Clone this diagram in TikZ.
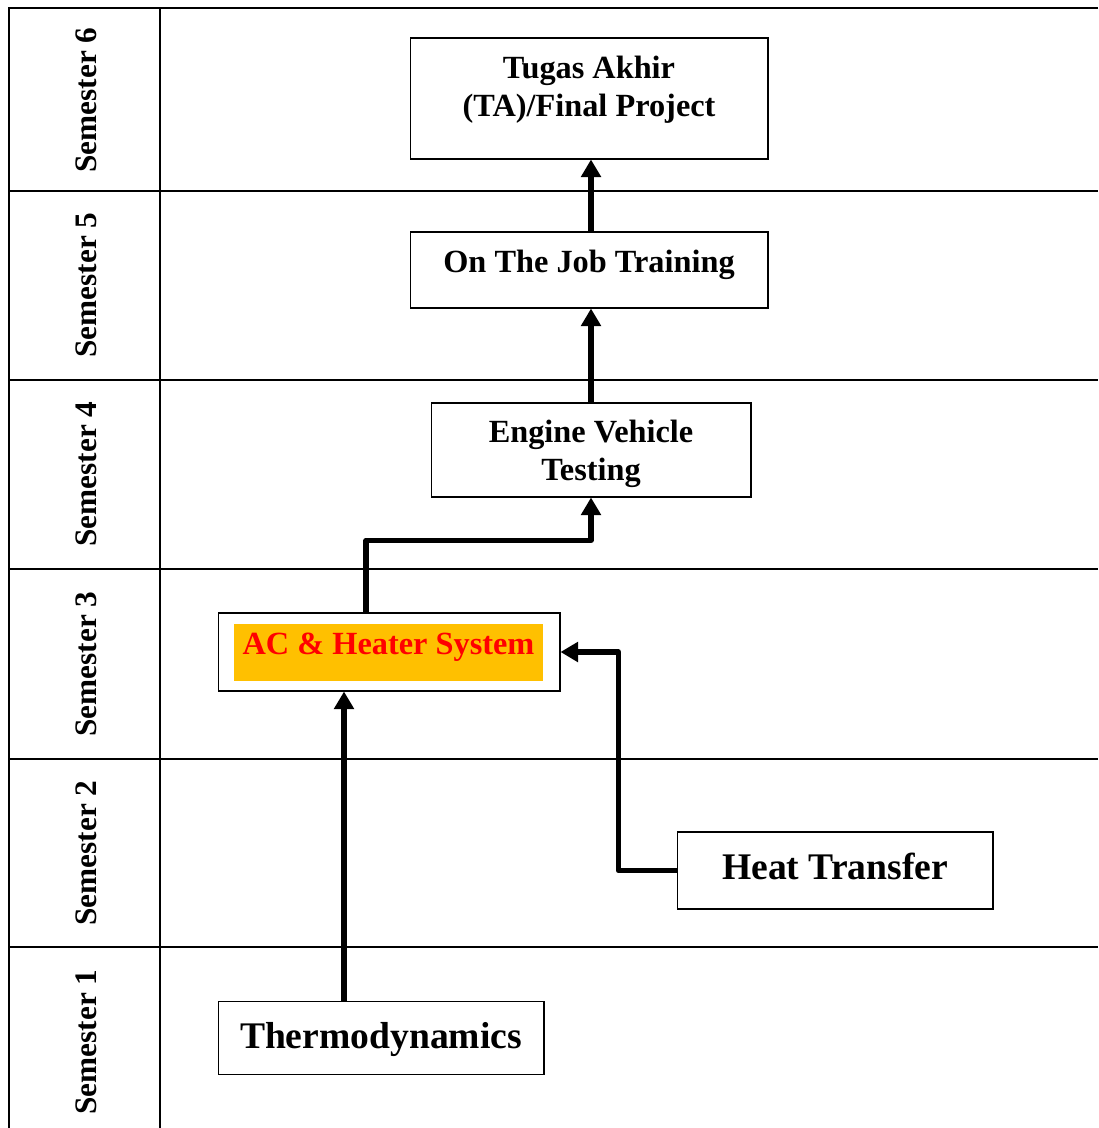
\documentclass[tikz,border=0pt]{standalone}
\usepackage{fontspec}
\setmainfont{Liberation Serif}
\usetikzlibrary{arrows.meta}
\definecolor{acfill}{HTML}{FFC000}
\tikzset{
    tableline/.style={line width=1.3pt},
    course/.style={draw, line width=0.6pt, align=center, font=\fontsize{18.4pt}{21.5pt}\selectfont\bfseries},
    bigcourse/.style={course, font=\fontsize{21.4pt}{26pt}\selectfont\bfseries},
    semlabel/.style={rotate=90, font=\fontsize{17.8pt}{21.5pt}\selectfont\bfseries},
    flow/.style={line width=3.1pt, line join=round, -{Triangle[length=10pt,width=11pt]}}
}
\begin{document}
\begin{tikzpicture}[x=0.02cm, y=-0.02cm]
    \useasboundingbox (0,0) rectangle (1098,1128);
    \draw[tableline] (1098,8) -- (9,8) -- (9,1128);
    \draw[tableline] (160,8) -- (160,1128);
    \foreach \y in {191,380,569,759,947}
        \draw[tableline] (9,\y) -- (1098,\y);
    \foreach \n/\y in {6/100,5/285,4/474,3/664,2/853,1/1042}
        \node[semlabel] (sem\n) at (86,\y) {Semester \n};

    \node[course, minimum width=7.16cm, minimum height=2.42cm] (ta) at (589,98.5) {Tugas Akhir\\(TA)/Final Project\rule[-13.9pt]{0pt}{0pt}};
    \node[course, minimum width=7.16cm, minimum height=1.52cm, text height=12.5pt, text depth=10pt] (ojt) at (589,270) {On The Job Training};
    \node[course, minimum width=6.4cm, minimum height=1.88cm] (evt) at (591,450) {\rule{0pt}{17.3pt}Engine Vehicle\\Testing};
    \node[course, minimum width=6.84cm, minimum height=1.56cm] (ac) at (389,652) {};
    \node[font=\fontsize{18.4pt}{21.5pt}\selectfont\bfseries, fill=acfill, text=red, inner sep=0pt,
          minimum width=6.18cm, minimum height=1.14cm, text height=12.5pt, text depth=10.5pt] (actext) at (388.5,652.5) {AC \& Heater System};
    \node[bigcourse, minimum width=6.32cm, minimum height=1.54cm, text height=14.6pt, text depth=4pt] (heat) at (835,870.5) {Heat Transfer};
    \node[bigcourse, minimum width=6.52cm, minimum height=1.46cm, text height=14.6pt, text depth=2.4pt] (thermo) at (381,1038) {Thermodynamics};

    \draw[flow] ([xshift=-0.74cm]thermo.north) -- ([xshift=-0.74cm]thermo.north |- ac.south);
    \draw[flow] (heat.west) -- ++(-58,0) |- (ac.east);
    \draw[flow] ([xshift=-0.46cm]ac.north) -- ++(0,-72) -| (evt.south);
    \draw[flow] (evt.north) -- (evt.north |- ojt.south);
    \draw[flow] (ojt.north -| evt.north) -- (evt.north |- ta.south);
\end{tikzpicture}
\end{document}
